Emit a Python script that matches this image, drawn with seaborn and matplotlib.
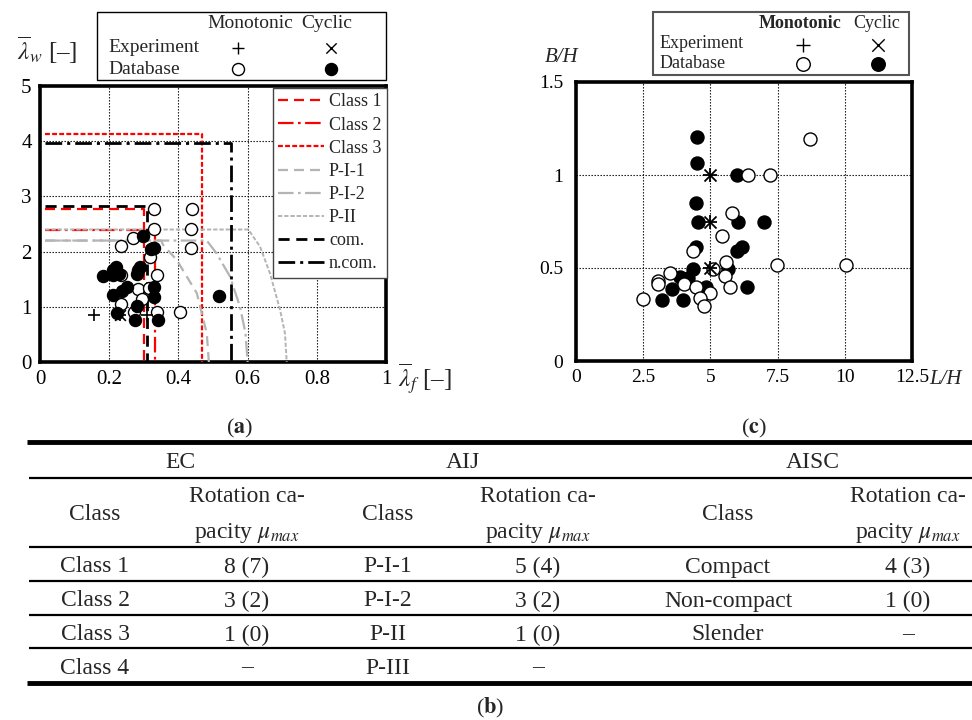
import numpy as np
import pandas as pd
import matplotlib
matplotlib.use('Agg')
import matplotlib.pyplot as plt
import seaborn as sns
from matplotlib.lines import Line2D
from matplotlib.patches import Rectangle

# ---------------- data: panel (a) ----------------
a_db_mono_x = [0.33, 0.438, 0.33, 0.436, 0.436, 0.27, 0.235, 0.318, 0.338, 0.235, 0.283, 0.315, 0.294, 0.235, 0.271, 0.338, 0.405, 0.33]
a_db_mono_y = [2.77, 2.77, 2.41, 2.41, 2.06, 2.25, 2.11, 1.91, 1.57, 1.58, 1.33, 1.34, 1.15, 1.05, 0.90, 0.90, 0.90, 2.06]
a_db_cyc_x = [0.298, 0.327, 0.322, 0.221, 0.212, 0.183, 0.212, 0.228, 0.289, 0.284, 0.279, 0.33, 0.33, 0.25, 0.236, 0.21, 0.281, 0.222, 0.275, 0.342, 0.518]
a_db_cyc_y = [2.29, 2.07, 2.05, 1.72, 1.67, 1.55, 1.58, 1.60, 1.73, 1.66, 1.59, 1.36, 1.17, 1.35, 1.28, 1.21, 1.02, 0.89, 0.76, 0.76, 1.20]
a_exp_mono_x = [0.155, 0.31, 0.23]
a_exp_mono_y = [0.85, 0.85, 0.85]
a_exp_cyc_x = [0.23]
a_exp_cyc_y = [0.85]

# classification boundaries (panel a)
class1_x = [0.015, 0.30, 0.30];   class1_y = [2.77, 2.77, 0.0]
class2_x = [0.015, 0.332, 0.332]; class2_y = [2.40, 2.40, 0.0]
class3_x = [0.015, 0.468, 0.468]; class3_y = [4.13, 4.13, 0.0]
pi1_x = [0.015, 0.35, 0.356, 0.395, 0.453, 0.482, 0.488]
pi1_y = [2.20, 2.20, 2.12, 1.85, 1.25, 0.52, 0.0]
pi2_x = [0.015, 0.482, 0.51, 0.549, 0.578, 0.594, 0.60]
pi2_y = [2.20, 2.20, 1.97, 1.55, 1.00, 0.52, 0.0]
pii_x = [0.015, 0.602, 0.636, 0.665, 0.694, 0.708, 0.713]
pii_y = [2.40, 2.40, 2.09, 1.60, 0.94, 0.52, 0.0]
com_x = [0.015, 0.308, 0.308];   com_y = [2.83, 2.83, 0.0]
ncom_x = [0.015, 0.551, 0.551];  ncom_y = [3.97, 3.97, 0.0]

a_xticks = [0, 0.2, 0.4, 0.6, 0.8, 1.0]
a_xticklabels = ['0', '0.2', '0.4', '0.6', '0.8', '1']
a_yticks = [0, 1, 2, 3, 4, 5]
a_yticklabels = ['0', '1', '2', '3', '4', '5']
line_labels = ['Class 1', 'Class 2', 'Class 3', 'P-I-1', 'P-I-2', 'P-II', 'com.', 'n.com.']

# ---------------- data: panel (c) ----------------
c_db_cyc_x = [4.49, 4.49, 6.0, 4.47, 4.55, 6.01, 6.98, 4.45, 6.16, 6.0, 4.34, 3.87, 4.18, 3.56, 3.19, 3.99, 4.84, 6.35, 5.67]
c_db_cyc_y = [1.206, 1.066, 1.0, 0.848, 0.745, 0.745, 0.745, 0.611, 0.611, 0.59, 0.493, 0.453, 0.445, 0.385, 0.328, 0.328, 0.396, 0.396, 0.493]
c_db_mono_x = [8.71, 6.41, 7.22, 5.79, 5.44, 4.34, 7.47, 10.03, 5.58, 3.50, 3.04, 3.04, 4.02, 5.54, 4.46, 5.73, 4.99, 4.61, 4.76, 2.50, 5.11]
c_db_mono_y = [1.194, 1.0, 1.0, 0.794, 0.674, 0.593, 0.516, 0.516, 0.534, 0.475, 0.432, 0.414, 0.414, 0.457, 0.396, 0.396, 0.364, 0.337, 0.297, 0.333, 0.493]
c_exp_mono_x = [5.0, 5.0, 5.0]
c_exp_mono_y = [1.0, 0.75, 0.5]
c_exp_cyc_x = [5.0, 5.0, 5.0]
c_exp_cyc_y = [1.0, 0.75, 0.5]
c_xticks = [0, 2.5, 5, 7.5, 10, 12.5]
c_xticklabels = ['0', '2.5', '5', '7.5', '10', '12.5']
c_yticks = [0, 0.5, 1.0, 1.5]
c_yticklabels = ['0', '0.5', '1', '1.5']

# ---------------- data: table (b) ----------------
tbl_groups = ['EC', 'AIJ', 'AISC']
tbl_class_hdr = 'Class'
tbl_rot_hdr = ['Rotation ca-', r'pacity $\mu_{max}$']
ec_class = ['Class 1', 'Class 2', 'Class 3', 'Class 4']
ec_mu = ['8 (7)', '3 (2)', '1 (0)', '–']
aij_class = ['P-I-1', 'P-I-2', 'P-II', 'P-III']
aij_mu = ['5 (4)', '3 (2)', '1 (0)', '–']
aisc_class = ['Compact', 'Non-compact', 'Slender', '']
aisc_mu = ['4 (3)', '1 (0)', '–', '']

# ---------------- style ----------------
sns.set_style('white')
plt.rcParams['font.family'] = ['Liberation Serif', 'DejaVu Serif']
plt.rcParams['mathtext.fontset'] = 'stix'

W, H = 972, 720
fig = plt.figure(figsize=(W / 100, H / 100), dpi=100)
ov = fig.add_axes([0, 0, 1, 1])
ov.set_xlim(0, W)
ov.set_ylim(H, 0)
ov.axis('off')

axA = fig.add_axes([40 / W, 1 - 362 / H, 346 / W, 276 / H])
axC = fig.add_axes([576 / W, 1 - 361 / H, 336 / W, 279 / H])

RED = '#ff0000'
GRAY = '#b4b4b4'
styles = [
    (RED, (0, (4.5, 2.7)), 1.6),
    (RED, (0, (7, 2, 1.2, 2)), 1.6),
    (RED, (0, (2.2, 1.0)), 1.6),
    (GRAY, (0, (4.5, 2.7)), 1.6),
    (GRAY, (0, (7, 2, 1.2, 2)), 1.6),
    (GRAY, (0, (2.2, 1.0)), 1.4),
    ('black', (0, (4.0, 2.4)), 2.0),
    ('black', (0, (6, 1.8, 1.1, 1.8)), 2.0),
]
line_data = [(class1_x, class1_y), (class2_x, class2_y), (class3_x, class3_y),
             (pi1_x, pi1_y), (pi2_x, pi2_y), (pii_x, pii_y),
             (com_x, com_y), (ncom_x, ncom_y)]


def style_axes(ax, xlim, ylim, xt, xtl, yt, ytl, fs):
    ax.set_xlim(*xlim)
    ax.set_ylim(*ylim)
    ax.set_xticks(xt)
    ax.set_xticklabels(xtl)
    ax.set_yticks(yt)
    ax.set_yticklabels(ytl)
    ax.set_xlabel('')
    ax.set_ylabel('')
    ax.set_axisbelow(True)
    ax.grid(True, color='black', linestyle=(0, (1.2, 1.5)), linewidth=0.8)
    for sp in ax.spines.values():
        sp.set_visible(True)
        sp.set_color('black')
        sp.set_linewidth(2.6)
    ax.tick_params(length=0, labelsize=fs, pad=6, colors='black')


# ---- panel (a)
for (xs, ys), (col, ls, lw) in zip(line_data, styles):
    sns.lineplot(x=xs, y=ys, sort=False, estimator=None, ax=axA, color=col,
                 linestyle=ls, linewidth=lw, zorder=3)

sns.scatterplot(x=a_db_mono_x, y=a_db_mono_y, ax=axA, marker='o', s=75,
                facecolor='white', edgecolor='black', linewidth=1.0, zorder=5)
sns.scatterplot(x=a_db_cyc_x, y=a_db_cyc_y, ax=axA, marker='o', s=75,
                color='black', edgecolor='black', linewidth=1.0, zorder=6)
sns.scatterplot(x=a_exp_mono_x, y=a_exp_mono_y, ax=axA, marker='+', s=80,
                color='black', linewidth=1.2, zorder=7)
sns.scatterplot(x=a_exp_cyc_x, y=a_exp_cyc_y, ax=axA, marker='x', s=60,
                color='black', linewidth=1.2, zorder=7)
style_axes(axA, (0, 1), (0, 5), a_xticks, a_xticklabels, a_yticks, a_yticklabels, 15)

handles = [Line2D([], [], color=c, linestyle=ls, linewidth=lw) for c, ls, lw in styles]
leg = axA.legend(handles, line_labels, loc='upper left',
                 bbox_to_anchor=(273 / W, 1 - 88 / H), bbox_transform=fig.transFigure,
                 frameon=True, fancybox=False, edgecolor='#444444', framealpha=1,
                 fontsize=13, handlelength=2.5, handletextpad=0.3,
                 labelspacing=0.34, borderpad=0.3, borderaxespad=0)
leg.get_frame().set_linewidth(1.0)
leg.set_zorder(10)

# ---- panel (c)
sns.scatterplot(x=c_db_cyc_x, y=c_db_cyc_y, ax=axC, marker='o', s=88,
                color='black', edgecolor='black', linewidth=1.0, zorder=5)
sns.scatterplot(x=c_db_mono_x, y=c_db_mono_y, ax=axC, marker='o', s=88,
                facecolor='white', edgecolor='black', linewidth=1.0, zorder=6)
sns.scatterplot(x=c_exp_mono_x, y=c_exp_mono_y, ax=axC, marker='+', s=110,
                color='black', linewidth=1.3, zorder=7)
sns.scatterplot(x=c_exp_cyc_x, y=c_exp_cyc_y, ax=axC, marker='x', s=75,
                color='black', linewidth=1.3, zorder=7)
style_axes(axC, (0, 12.5), (0, 1.5), c_xticks, c_xticklabels, c_yticks, c_yticklabels, 14)
axC.tick_params(axis='y', pad=9)

# ---- axis labels
ov.text(17, 50, r'$\overline{\lambda}_{w}$ [–]', fontsize=18, ha='left', va='center')
ov.text(398, 379, r'$\overline{\lambda}_{f}$ [–]', fontsize=18, ha='left', va='center')
ov.text(562, 57, 'B/H', fontsize=15, ha='center', va='center', style='italic')
ov.text(929, 380, 'L/H', fontsize=15, ha='left', va='center', style='italic')

# ---- top legends (marker keys)
ov.add_patch(Rectangle((97, 12), 289, 68, fill=False, ec='black', lw=1.0))
ov.text(250, 23, 'Monotonic', fontsize=14, ha='center', va='center')
ov.text(327, 23, 'Cyclic', fontsize=14, ha='center', va='center')
ov.text(108, 48, 'Experiment', fontsize=14, ha='left', va='center')
ov.text(108, 70, 'Database', fontsize=14, ha='left', va='center')
sns.scatterplot(x=[238], y=[48], ax=ov, marker='+', s=80, color='black', linewidth=1.0)
sns.scatterplot(x=[331], y=[48], ax=ov, marker='x', s=55, color='black', linewidth=1.0)
sns.scatterplot(x=[238], y=[69], ax=ov, marker='o', s=75, facecolor='white', edgecolor='black', linewidth=1.0)
sns.scatterplot(x=[331], y=[69], ax=ov, marker='o', s=75, color='black', edgecolor='black', linewidth=1.0)

ov.add_patch(Rectangle((653, 12), 256, 63, fill=False, ec='#555555', lw=1.5))
ov.text(800, 24, 'Monotonic', fontsize=13, ha='center', va='center', weight='bold')
ov.text(877, 24, 'Cyclic', fontsize=13, ha='center', va='center')
ov.text(660, 44, 'Experiment', fontsize=13, ha='left', va='center')
ov.text(660, 63, 'Database', fontsize=13, ha='left', va='center')
sns.scatterplot(x=[803], y=[45], ax=ov, marker='+', s=110, color='black', linewidth=1.0)
sns.scatterplot(x=[878], y=[45], ax=ov, marker='x', s=80, color='black', linewidth=1.0)
sns.scatterplot(x=[803], y=[64], ax=ov, marker='o', s=95, facecolor='white', edgecolor='black', linewidth=1.0)
sns.scatterplot(x=[878], y=[64], ax=ov, marker='o', s=95, color='black', edgecolor='black', linewidth=1.0)

# ---- panel labels
ov.text(240, 428, r'($\mathbf{a}$)', fontsize=16, ha='center', va='center')
ov.text(754, 428, r'($\mathbf{c}$)', fontsize=16, ha='center', va='center')
ov.text(490, 708, r'($\mathbf{b}$)', fontsize=16, ha='center', va='center')

# ---- table (b)
TFS = 17
ov.hlines([442, 683], 27, W, colors='black', linewidth=3.5)
ov.hlines([478, 547, 581, 615, 648], 29, W, colors='black', linewidth=1.6)
grp_x = [180, 463, 813]
col_x = [95, 247, 388, 538, 728, 908]
for g, gx in zip(tbl_groups, grp_x):
    ov.text(gx, 463, g, fontsize=TFS, ha='center', va='center')
for k in range(3):
    ov.text(col_x[2 * k], 515, tbl_class_hdr, fontsize=TFS, ha='center', va='center')
    ov.text(col_x[2 * k + 1], 497, tbl_rot_hdr[0], fontsize=TFS, ha='center', va='center')
    ov.text(col_x[2 * k + 1], 533, tbl_rot_hdr[1], fontsize=TFS, ha='center', va='center')
row_y = [567, 601, 635, 668]
cols = [ec_class, ec_mu, aij_class, aij_mu, aisc_class, aisc_mu]
for cx, col in zip(col_x, cols):
    for ry, txt in zip(row_y, col):
        if txt:
            ov.text(cx, ry, txt, fontsize=TFS, ha='center', va='center')

fig.savefig('out.png', dpi=100)
